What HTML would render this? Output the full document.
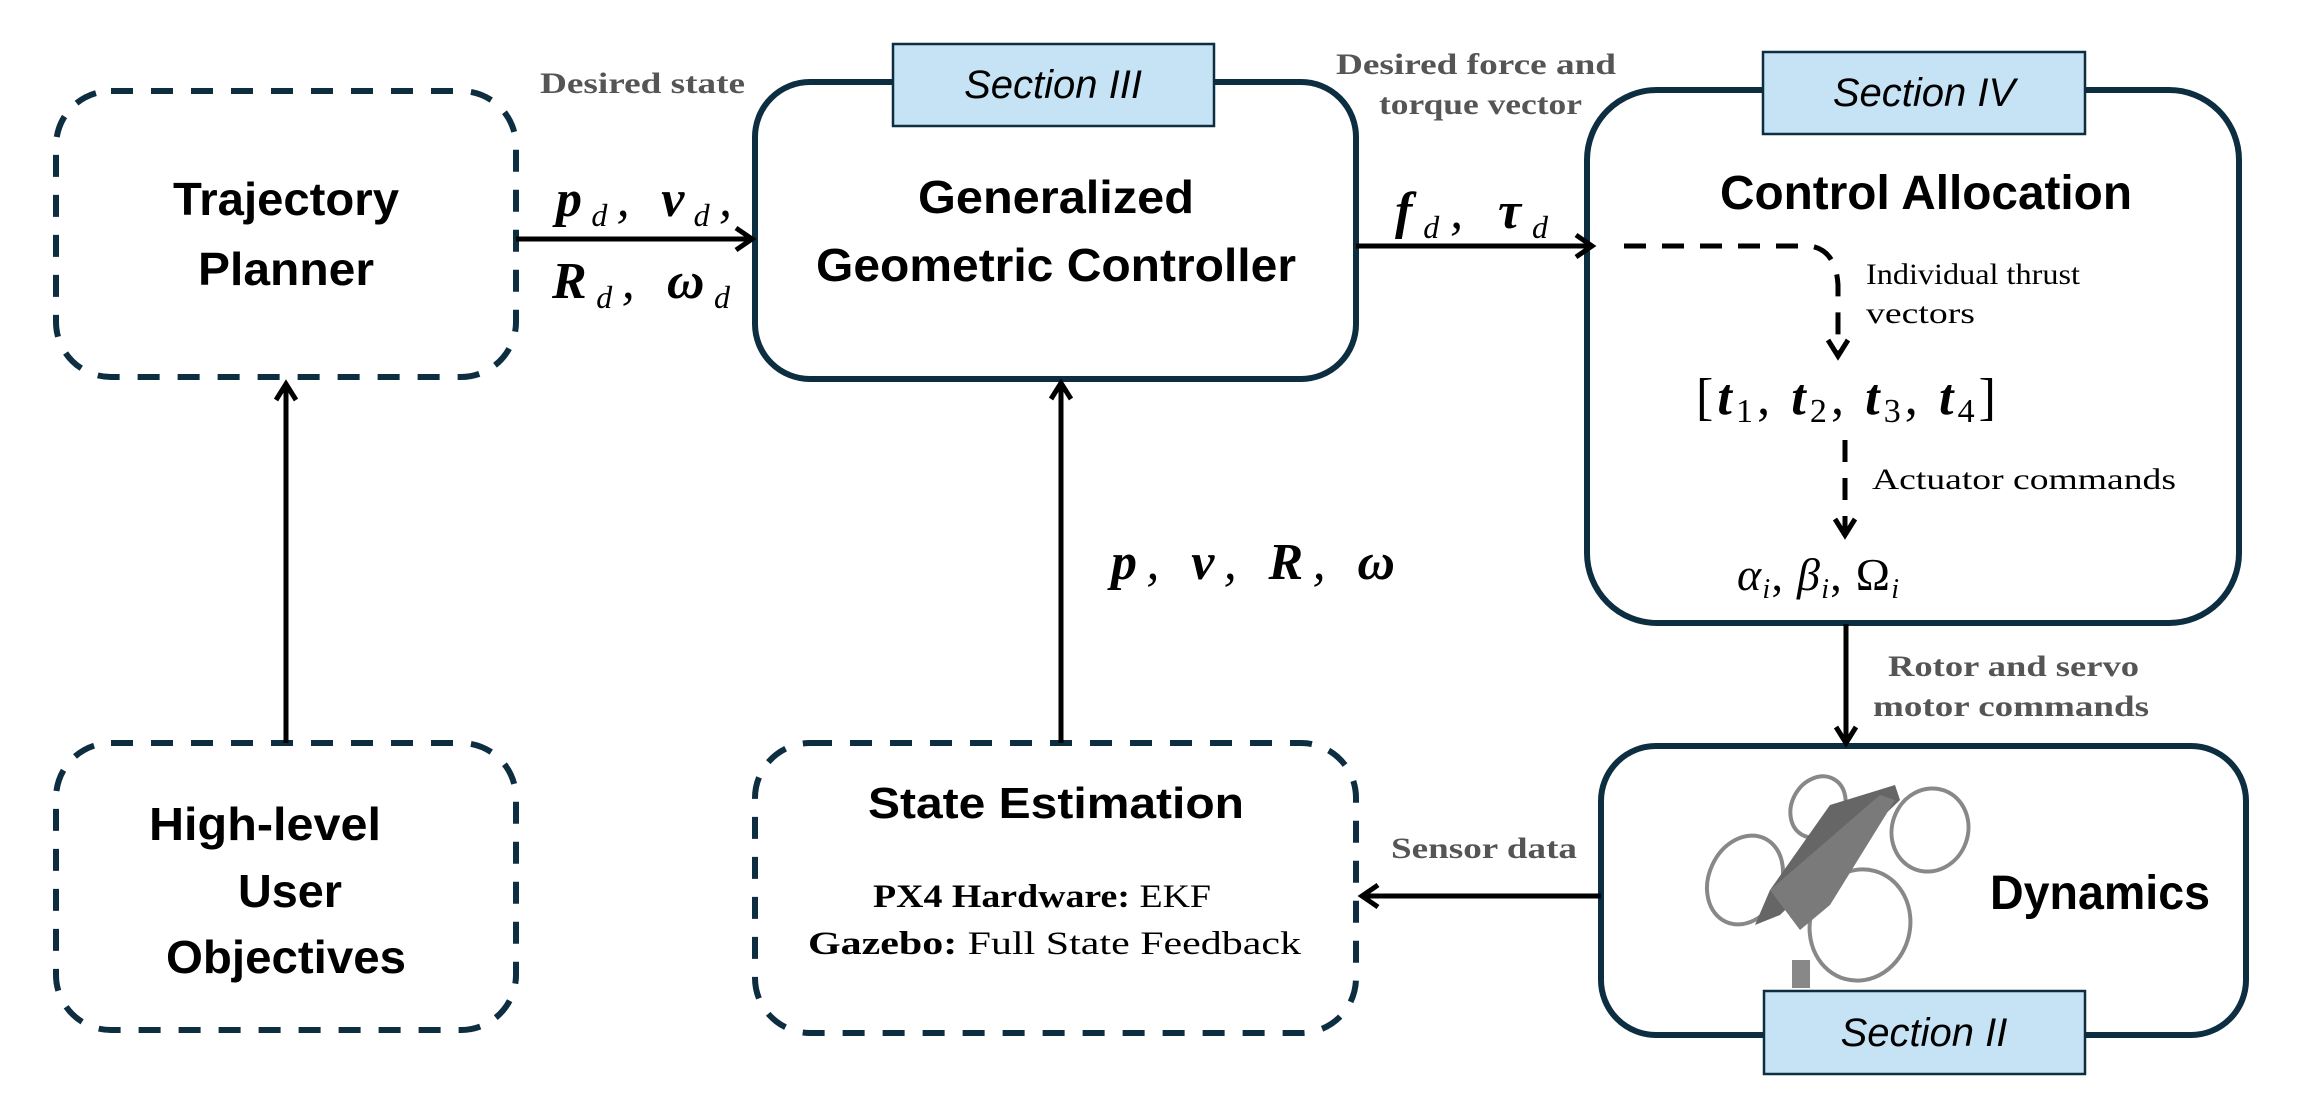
<!DOCTYPE html>
<html><head><meta charset="utf-8"><style>
html,body{margin:0;padding:0;background:#fff;}
svg{display:block;}
.t{font-family:"Liberation Sans",sans-serif;font-weight:bold;fill:#000;}
.s{font-family:"Liberation Sans",sans-serif;font-style:italic;fill:#000;}
.g{font-family:"Liberation Serif",serif;font-weight:bold;fill:#555;}
.m{font-family:"Liberation Serif",serif;fill:#000;}
.mb{font-family:"Liberation Serif",serif;font-weight:bold;font-style:italic;fill:#000;}
</style></head><body>
<svg width="2310" height="1120" viewBox="0 0 2310 1120" xmlns="http://www.w3.org/2000/svg">
<g fill="none" stroke="#0d2d40" stroke-width="6">
<rect x="56" y="91" width="460" height="286" rx="55" stroke-dasharray="22,18"/>
<rect x="56" y="743" width="460" height="287" rx="55" stroke-dasharray="22,18"/>
<rect x="755" y="82" width="601" height="297" rx="55"/>
<rect x="755" y="743" width="601" height="290" rx="55" stroke-dasharray="22,18"/>
<rect x="1587" y="90" width="652" height="533" rx="70"/>
<rect x="1601" y="746" width="645" height="289" rx="55"/>
</g>
<g fill="#c5e3f4" stroke="#0d2d40" stroke-width="2.5">
<rect x="893" y="44" width="321" height="82"/>
<rect x="1763" y="52" width="322" height="82"/>
<rect x="1764" y="991" width="321" height="83"/>
</g>
<text class="s" x="1053" y="98" font-size="40" text-anchor="middle">Section III</text>
<text class="s" x="1924" y="106" font-size="40" text-anchor="middle">Section IV</text>
<text class="s" x="1924" y="1046" font-size="40" text-anchor="middle">Section II</text>

<text class="t" font-size="46" text-anchor="middle" x="286" y="215" textLength="226" lengthAdjust="spacingAndGlyphs">Trajectory</text>
<text class="t" font-size="46" text-anchor="middle" x="286" y="285" textLength="176" lengthAdjust="spacingAndGlyphs">Planner</text>
<text class="t" font-size="46" text-anchor="middle" x="265" y="840" textLength="232" lengthAdjust="spacingAndGlyphs">High-level</text>
<text class="t" font-size="46" text-anchor="middle" x="290" y="907" textLength="104" lengthAdjust="spacingAndGlyphs">User</text>
<text class="t" font-size="46" text-anchor="middle" x="286" y="973" textLength="240" lengthAdjust="spacingAndGlyphs">Objectives</text>
<text class="t" font-size="46" text-anchor="middle" x="1056" y="213" textLength="276" lengthAdjust="spacingAndGlyphs">Generalized</text>
<text class="t" font-size="46" text-anchor="middle" x="1056" y="281" textLength="480" lengthAdjust="spacingAndGlyphs">Geometric Controller</text>
<text class="t" font-size="48" text-anchor="middle" x="1926" y="209" textLength="412" lengthAdjust="spacingAndGlyphs">Control Allocation</text>
<text class="t" font-size="44" text-anchor="middle" x="1056" y="818" textLength="376" lengthAdjust="spacingAndGlyphs">State Estimation</text>
<text class="t" font-size="48" text-anchor="middle" x="2100" y="909" textLength="220" lengthAdjust="spacingAndGlyphs">Dynamics</text>

<text class="m" font-size="33" x="873" y="907" textLength="338" lengthAdjust="spacingAndGlyphs"><tspan font-weight="bold">PX4 Hardware:</tspan> EKF</text>
<text class="m" font-size="33" x="808" y="954" textLength="493" lengthAdjust="spacingAndGlyphs"><tspan font-weight="bold">Gazebo:</tspan> Full State Feedback</text>

<text class="g" font-size="30" x="540" y="93" textLength="205" lengthAdjust="spacingAndGlyphs">Desired state</text>
<text class="g" font-size="30" x="1336" y="74" textLength="280" lengthAdjust="spacingAndGlyphs">Desired force and</text>
<text class="g" font-size="30" x="1379" y="114" textLength="203" lengthAdjust="spacingAndGlyphs">torque vector</text>
<text class="g" font-size="30" x="1888" y="676" textLength="251" lengthAdjust="spacingAndGlyphs">Rotor and servo</text>
<text class="g" font-size="30" x="1873" y="716" textLength="276" lengthAdjust="spacingAndGlyphs">motor commands</text>
<text class="g" font-size="30" x="1391" y="858" textLength="186" lengthAdjust="spacingAndGlyphs">Sensor data</text>

<text class="mb" font-size="52" x="556" y="216" textLength="176" lengthAdjust="spacing">p<tspan font-size="32" font-weight="normal" dy="10">d</tspan><tspan dy="-10" font-weight="normal">, </tspan>v<tspan font-size="32" font-weight="normal" dy="10">d</tspan><tspan dy="-10" font-weight="normal">,</tspan></text>
<text class="mb" font-size="52" x="552" y="298" textLength="178" lengthAdjust="spacing">R<tspan font-size="32" font-weight="normal" dy="10">d</tspan><tspan dy="-10" font-weight="normal">, </tspan>ω<tspan font-size="32" font-weight="normal" dy="10">d</tspan></text>
<text class="mb" font-size="52" x="1395" y="228" textLength="153" lengthAdjust="spacing">f<tspan font-size="32" font-weight="normal" dy="10">d</tspan><tspan dy="-10" font-weight="normal">, </tspan>τ<tspan font-size="32" font-weight="normal" dy="10">d</tspan></text>
<text class="mb" font-size="52" x="1111" y="579" textLength="284" lengthAdjust="spacing">p<tspan font-weight="normal">, </tspan>v<tspan font-weight="normal">, </tspan>R<tspan font-weight="normal">, </tspan>ω</text>
<text class="m" font-size="52" x="1696" y="414" textLength="300" lengthAdjust="spacing">[<tspan class="mb">t</tspan><tspan font-size="34" dy="8">1</tspan><tspan dy="-8">, </tspan><tspan class="mb">t</tspan><tspan font-size="34" dy="8">2</tspan><tspan dy="-8">, </tspan><tspan class="mb">t</tspan><tspan font-size="34" dy="8">3</tspan><tspan dy="-8">, </tspan><tspan class="mb">t</tspan><tspan font-size="34" dy="8">4</tspan><tspan dy="-8">]</tspan></text>
<text class="m" font-size="46" font-style="italic" x="1737" y="590" textLength="162" lengthAdjust="spacing">α<tspan font-size="28" dy="8">i</tspan><tspan dy="-8" font-style="normal">, </tspan>β<tspan font-size="28" dy="8">i</tspan><tspan dy="-8" font-style="normal">, Ω</tspan><tspan font-size="28" dy="8">i</tspan></text>
<text class="m" font-size="30" x="1866" y="284" textLength="214" lengthAdjust="spacingAndGlyphs">Individual thrust</text>
<text class="m" font-size="30" x="1866" y="323" textLength="109" lengthAdjust="spacingAndGlyphs">vectors</text>
<text class="m" font-size="30" x="1872" y="489" textLength="304" lengthAdjust="spacingAndGlyphs">Actuator commands</text>

<g stroke="#000" stroke-width="5" fill="none">
<line x1="516" y1="239" x2="752" y2="239"/>
<polyline points="736,228 752,239 736,250"/>
<line x1="286" y1="743" x2="286" y2="384"/>
<polyline points="276,400 286,384 296,400"/>
<line x1="1061" y1="743" x2="1061" y2="383"/>
<polyline points="1051,399 1061,383 1071,399"/>
<line x1="1356" y1="246" x2="1592" y2="246"/>
<polyline points="1576,235 1592,246 1576,257"/>
<line x1="1846" y1="624" x2="1846" y2="743"/>
<polyline points="1836,727 1846,743 1856,727"/>
<line x1="1601" y1="896" x2="1362" y2="896"/>
<polyline points="1378,885 1362,896 1378,907"/>
<path d="M1624,246 L1810,246 Q1836,250 1838,285 L1838,355" stroke-dasharray="22,16"/>
<polyline points="1828,340 1838,356 1848,340"/>
<line x1="1845" y1="440" x2="1845" y2="535" stroke-dasharray="22,16"/>
<polyline points="1835,519 1845,535 1855,519"/>
</g>

<g fill="none" stroke="#888" stroke-width="4">
<ellipse cx="1818" cy="807" rx="26" ry="32" transform="rotate(30 1818 807)"/>
<ellipse cx="1930" cy="830" rx="38" ry="42" transform="rotate(20 1930 830)"/>
<ellipse cx="1745" cy="880" rx="36" ry="46" transform="rotate(25 1745 880)"/>
<ellipse cx="1860" cy="925" rx="50" ry="56" transform="rotate(15 1860 925)"/>
</g>
<polygon points="1830,805 1895,785 1900,800 1780,915 1755,925 1770,890" fill="#666"/>
<polygon points="1770,890 1800,930 1830,905 1895,800 1880,795" fill="#7a7a7a"/>
<rect x="1792" y="960" width="18" height="28" fill="#888"/>
</svg>
</body></html>
